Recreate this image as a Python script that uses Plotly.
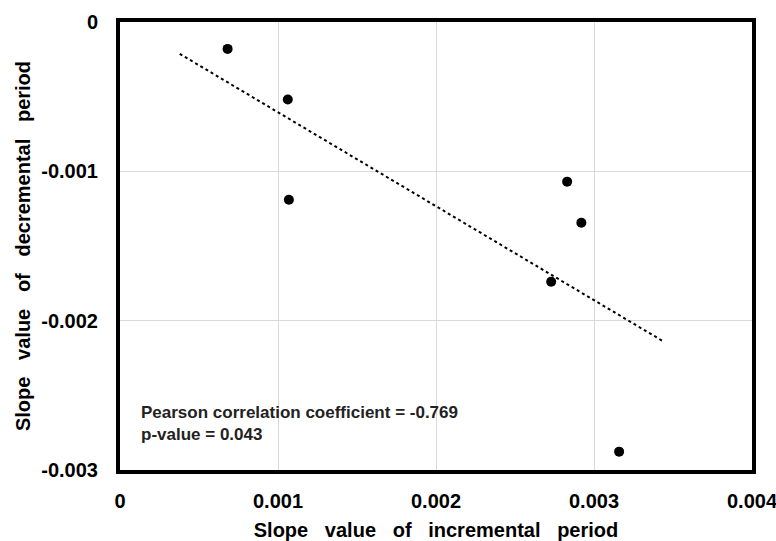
import numpy as np
import plotly.graph_objects as go

x_inc = [0.000681, 0.001062, 0.001069, 0.00283, 0.00292, 0.002729, 0.003159]
y_dec = [-0.00018, -0.000519, -0.00119, -0.001069, -0.001344, -0.001739, -0.002877]
trend_x_range = [0.000378, 0.00344]
x_ticks = [0, 0.001, 0.002, 0.003, 0.004]
x_tick_labels = ["0", "0.001", "0.002", "0.003", "0.004"]
y_ticks = [0, -0.001, -0.002, -0.003]
y_tick_labels = ["0", "-0.001", "-0.002", "-0.003"]

slope, intercept = np.polyfit(x_inc, y_dec, 1)
tx = np.array(trend_x_range)
ty = slope * tx + intercept

gap = "\u00a0\u00a0\u00a0"
x_title = gap.join(["Slope", "value", "of", "incremental", "period"])
y_title = gap.join(["Slope", "value", "of", "decremental", "period"])

fig = go.Figure()
fig.add_trace(go.Scatter(x=tx, y=ty, mode="lines",
                         line=dict(color="black", width=2, dash="dot"),
                         showlegend=False, hoverinfo="skip"))
fig.add_trace(go.Scatter(x=x_inc, y=y_dec, mode="markers",
                         marker=dict(color="black", size=10),
                         showlegend=False))

eps = 1e-9
font = "Liberation Sans, Arial, sans-serif"
fig.update_layout(
    width=776, height=541,
    margin=dict(l=120, r=24, t=22, b=71),
    paper_bgcolor="white", plot_bgcolor="white",
    font=dict(family=font, color="black"),
    xaxis=dict(range=[0 - eps, 0.004 + eps], tickvals=x_ticks, ticktext=x_tick_labels,
               automargin=False, ticklabeloverflow="allow",
               showgrid=True, gridcolor="#d9d9d9", gridwidth=1,
               zeroline=False, showline=True, linecolor="black", linewidth=4, mirror=True,
               ticks="outside", ticklen=10, tickcolor="rgba(0,0,0,0)",
               tickfont=dict(size=20, family=font, weight="bold"),
               title=dict(text=x_title,
                          font=dict(size=20, family=font, weight="bold"), standoff=18)),
    yaxis=dict(range=[-0.003 - eps, 0 + eps], tickvals=y_ticks, ticktext=y_tick_labels,
               automargin=False, ticklabeloverflow="allow",
               showgrid=True, gridcolor="#d9d9d9", gridwidth=1,
               zeroline=False, showline=True, linecolor="black", linewidth=4, mirror=True,
               ticks="outside", ticklen=14, tickcolor="rgba(0,0,0,0)",
               tickfont=dict(size=20, family=font, weight="bold"),
               title=dict(text=y_title,
                          font=dict(size=20, family=font, weight="bold"), standoff=6)),
    annotations=[dict(x=0.00012, y=-0.00254, xref="x", yref="y", xanchor="left", yanchor="top",
                      align="left", showarrow=False,
                      text="Pearson correlation coefficient = -0.769<br>p-value = 0.043",
                      font=dict(size=17, family=font, weight="bold", color="#222"))],
)
fig.write_html("out.html")
